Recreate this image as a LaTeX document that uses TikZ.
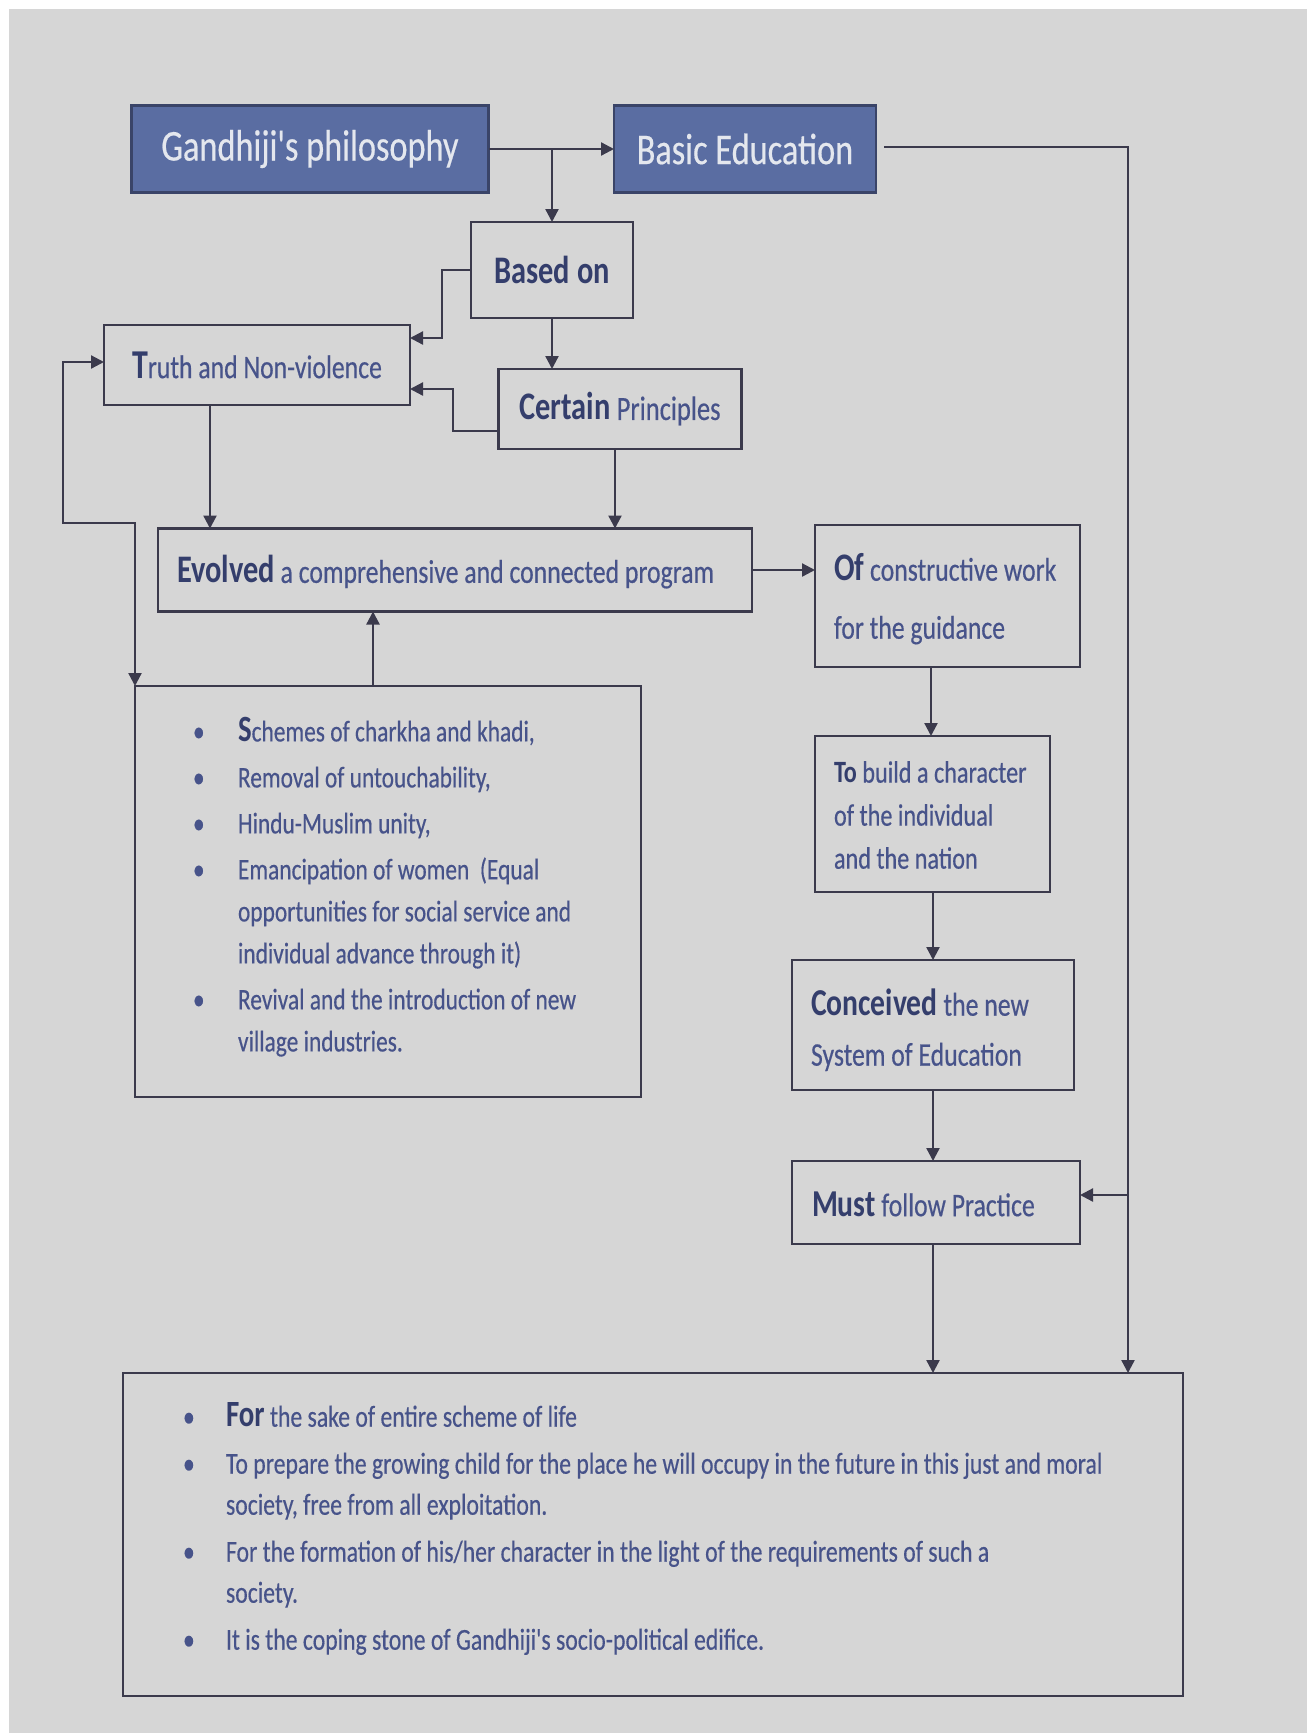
\documentclass[tikz,border=0pt]{standalone}
\usepackage{fontspec}
\usetikzlibrary{arrows.meta}
\newfontfamily\cf[FakeStretch=0.78, UprightFeatures={FakeBold=0.4}]{Carlito}
\definecolor{bgc}{HTML}{D6D6D6}
\definecolor{hb}{HTML}{5A6DA2}
\definecolor{hbd}{HTML}{3A4468}
\definecolor{lc}{HTML}{3B3A4C}
\definecolor{tc}{HTML}{47538A}
\definecolor{tb}{HTML}{343E6C}
\definecolor{ht}{HTML}{E4E7EE}
\newcommand{\fs}[2]{\fontsize{#1}{#2}\selectfont}
\newcommand{\bw}[2]{{\bfseries\color{tb}\fs{#1}{#1}#2}}
\tikzset{
  box/.style={draw=lc, line width=2.6pt, fill=bgc, inner sep=0pt, outer sep=0pt, text=tc, font=\cf},
  hbox/.style={box, fill=hb, draw=hbd, text=ht},
  txt/.style={inner sep=0pt, outer sep=0pt, anchor=west, text=tc, font=\cf},
  arr/.style={draw=lc, line width=2.3pt, -{Triangle[length=13pt,width=13pt]}},
  darr/.style={draw=lc, line width=2.3pt, {Triangle[length=13pt,width=13pt]}-{Triangle[length=13pt,width=13pt]}},
  ln/.style={draw=lc, line width=2.3pt}
}
\begin{document}
\begin{tikzpicture}[x=1pt,y=-1pt]
\fill[white] (0,0) rectangle (1307,1733);
\fill[bgc] (9,9) rectangle (1307,1733);
\useasboundingbox (0,0) rectangle (1307,1733);

% boxes
\node[hbox, minimum width=357, minimum height=87, font=\cf\fs{44}{52}] (gp) at (310,149) {Gandhiji's philosophy};
\node[hbox, minimum width=262, minimum height=87, font=\cf\fs{44}{52}] (be) at (745,149) {Basic Education};
\node[box, minimum width=162, minimum height=96] (bo) at (552,270) {\bw{39}{Based on}};
\node[box, minimum width=306, minimum height=80, font=\cf\fs{33}{40}] (tn) at (257,365) {\bw{41}{T}ruth and Non-violence};
\node[box, minimum width=243, minimum height=80, font=\cf\fs{34}{40}] (cp) at (620,409) {\bw{39}{Certain} Principles};
\node[box, minimum width=594, minimum height=83] (ev) at (455,570) {};
\node[box, minimum width=265, minimum height=142] (of) at (947.5,596) {};
\node[box, minimum width=506, minimum height=411] (sc) at (388,891.5) {};
\node[box, minimum width=235, minimum height=156] (tb) at (932.5,814) {};
\node[box, minimum width=282, minimum height=130] (co) at (933,1025) {};
\node[box, minimum width=288, minimum height=83] (mu) at (936,1202.5) {};
\node[box, minimum width=1060, minimum height=323] (bt) at (653,1534.5) {};

% texts
\node[txt, font=\cf\fs{33}{40}] (evt) at (177,572) {\bw{39}{Evolved} a comprehensive and connected program};
\node[txt, align=left, font=\cf\fs{33}{58}] (oft) at (834,599) {\bw{39}{Of} constructive work\\for the guidance};
\node[txt, align=left, font=\cf\fs{31}{43}] (tbt) at (834,815) {{\bfseries\color{tb}To} build a character\\of the individual\\and the nation};
\node[txt, align=left, font=\cf\fs{33}{50}] (cot) at (811,1030) {\bw{38}{Conceived} the new\\System of Education};
\node[txt, font=\cf\fs{33}{40}] (mut) at (812,1204) {\bw{38}{Must} follow Practice};

\node[txt] (sct) at (193,888) {\fs{30}{42}\begin{tabular}{@{}p{45pt}@{}l@{}}
\textbullet & {\bfseries\color{tb}\fs{37}{42}S}chemes of charkha and khadi,\\[4pt]
\textbullet & Removal of untouchability,\\[4pt]
\textbullet & Hindu-Muslim unity,\\[4pt]
\textbullet & Emancipation of women~ (Equal\\
 & opportunities for social service and\\
 & individual advance through it)\\[4pt]
\textbullet & Revival and the introduction of new\\
 & village industries.
\end{tabular}};

\node[txt] (btt) at (183,1530) {\fs{30.4}{41}\begin{tabular}{@{}p{43pt}@{}l@{}}
\textbullet & {\bfseries\color{tb}\fs{37}{41}For} the sake of entire scheme of life\\[6pt]
\textbullet & To prepare the growing child for the place he will occupy in the future in this just and moral\\
 & society, free from all exploitation.\\[6pt]
\textbullet & For the formation of his/her character in the light of the requirements of such a\\
 & society.\\[6pt]
\textbullet & It is the coping stone of Gandhiji's socio-political edifice.
\end{tabular}};

% helper coordinates
\coordinate (k1) at (442,270);
\coordinate (k2) at (442,338);
\coordinate (k3) at (453,431);
\coordinate (k4) at (453,389);
\coordinate (k5) at (210,450);
\coordinate (k6) at (615,450);
\coordinate (k7) at (373,650);
\coordinate (l1) at (63,362);
\coordinate (l2) at (63,523);
\coordinate (l3) at (135,523);
\coordinate (r0) at (884,147);
\coordinate (r1) at (1128,147);
\coordinate (r2) at (1128,1195);
\coordinate (v1) at (931,700);
\coordinate (v2) at (933,900);

% connectors
\draw[arr] (gp.east) -- (be.west);
\draw[arr] (bo.north |- gp.east) -- (bo.north);
\draw[arr] (bo.west) -- (k1) -- (k2) -- (tn.east |- k2);
\draw[arr] (bo.south) -- (cp.north -| bo.south);
\draw[arr] (cp.west |- k3) -- (k3) -- (k4) -- (tn.east |- k4);
\draw[arr] (tn.south -| k5) -- (ev.north -| k5);
\draw[arr] (cp.south -| k6) -- (ev.north -| k6);
\draw[arr] (ev.east) -- (of.west |- ev.east);
\draw[arr] (sc.north -| k7) -- (ev.south -| k7);
\draw[darr] (tn.west |- l1) -- (l1) -- (l2) -- (l3) -- (sc.north -| l3);
\draw[ln] (r0) -- (r1) -- (r2);
\draw[arr] (r2) -- (bt.north -| r2);
\draw[arr] (r2) -- (mu.east |- r2);
\draw[arr] (of.south -| v1) -- (tb.north -| v1);
\draw[arr] (tb.south -| v2) -- (co.north -| v2);
\draw[arr] (co.south -| v2) -- (mu.north -| v2);
\draw[arr] (mu.south -| v2) -- (bt.north -| v2);
\end{tikzpicture}
\end{document}
